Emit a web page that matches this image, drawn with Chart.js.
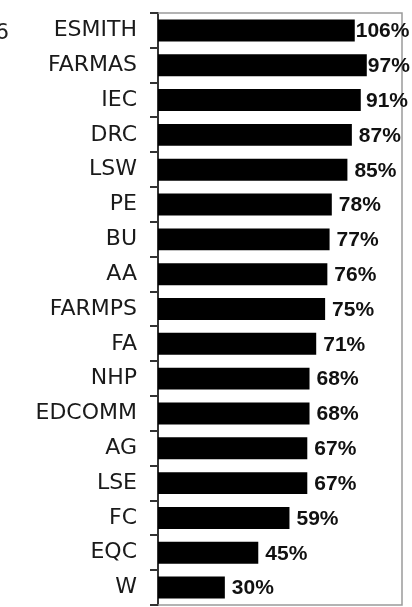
<!DOCTYPE html>
<html>
<head>
<meta charset="utf-8">
<script src="https://cdn.jsdelivr.net/npm/chart.js@4/dist/chart.umd.min.js"></script>
<style>
  html, body { margin: 0; padding: 0; background: #fff; }
  #wrap { width: 412px; height: 607px; }
</style>
</head>
<body>
<div id="wrap"><canvas id="myChart"></canvas></div>
<script>
// categories, top to bottom
const units = ['ESMITH', 'FARMAS', 'IEC', 'DRC', 'LSW', 'PE', 'BU', 'AA', 'FARMPS',
  'FA', 'NHP', 'EDCOMM', 'AG', 'LSE', 'FC', 'EQC', 'W'];
// bar lengths as drawn in the picture (percent units)
const barValues = [88.3, 93.7, 91, 87, 85, 78, 77, 76, 75, 71, 68, 68, 67, 67, 59, 45, 30];
// printed value labels
const valueLabels = ['106%', '97%', '91%', '87%', '85%', '78%', '77%', '76%', '75%',
  '71%', '68%', '68%', '67%', '67%', '59%', '45%', '30%'];
const xMax = 109.5;
const strayText = '6';

const frameAndLabels = {
  id: 'frameAndLabels',
  afterDatasetsDraw(chart) {
    const ctx = chart.ctx;
    const a = chart.chartArea;
    ctx.save();
    // gray frame on top, right, bottom
    ctx.strokeStyle = '#9a9a9a';
    ctx.lineWidth = 1.5;
    ctx.beginPath();
    ctx.moveTo(a.left, a.top);
    ctx.lineTo(a.right, a.top);
    ctx.lineTo(a.right, a.bottom);
    ctx.lineTo(a.left, a.bottom);
    ctx.stroke();

    // value labels
    ctx.font = 'bold 21px "Liberation Sans", Arial, sans-serif';
    ctx.fillStyle = '#111';
    ctx.textBaseline = 'middle';
    ctx.textAlign = 'left';
    const meta = chart.getDatasetMeta(0);
    meta.data.forEach((bar, i) => {
      const txt = valueLabels[i];
      const w = ctx.measureText(txt).width;
      let x = bar.x + 7;
      if (x + w > 408) x = Math.max(bar.x + 1, 408 - w);
      ctx.fillText(txt, x, bar.y + 1);
    });

    // cut-off text at the far left
    ctx.font = '22px "DejaVu Sans", sans-serif';
    ctx.fillStyle = '#222';
    ctx.fillText(strayText, -5, 33);
    ctx.restore();
  }
};

const ctx = document.getElementById('myChart').getContext('2d');
const myChart = new Chart(ctx, {
  type: 'bar',
  data: {
    labels: units,
    datasets: [{
      data: barValues,
      backgroundColor: '#000',
      borderWidth: 0,
      barPercentage: 0.63,
      categoryPercentage: 1
    }]
  },
  options: {
    indexAxis: 'y',
    responsive: true,
    maintainAspectRatio: false,
    animation: false,
    layout: { padding: { left: 0, top: 13, right: 10, bottom: 2 } },
    plugins: {
      legend: { display: false },
      tooltip: { enabled: false }
    },
    scales: {
      x: {
        display: false,
        min: 0,
        max: xMax
      },
      y: {
        afterFit: s => { s.width = 158; s.paddingTop = 0; s.paddingBottom = 0; },
        border: { display: true, color: '#333', width: 2 },
        grid: {
          drawOnChartArea: false,
          drawTicks: true,
          tickLength: 8,
          color: '#333',
          lineWidth: 2,
          offset: true
        },
        ticks: {
          padding: 13,
          color: '#1a1a1a',
          font: { family: '"DejaVu Sans", Verdana, sans-serif', size: 22 }
        }
      }
    }
  },
  plugins: [frameAndLabels]
});
</script>
</body>
</html>
